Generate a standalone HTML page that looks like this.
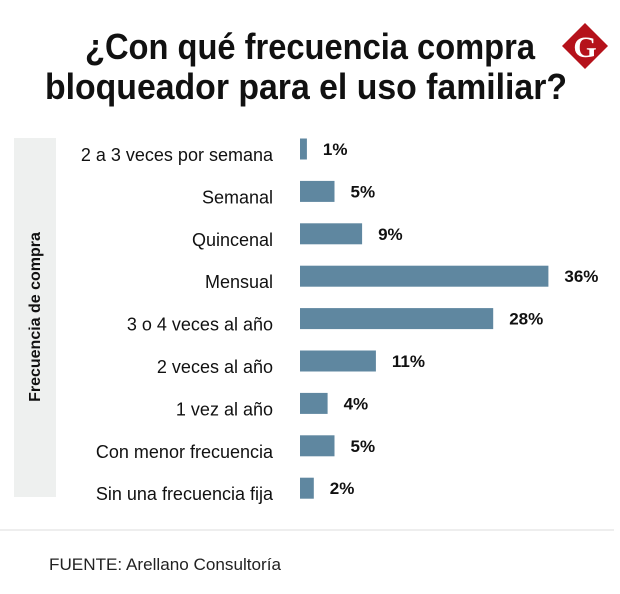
<!DOCTYPE html>
<html><head><meta charset="utf-8"><style>
body{margin:0;width:620px;height:594px;background:#fff;position:relative;overflow:hidden;font-family:"Liberation Sans",sans-serif;}
svg{position:absolute;left:0;top:0}
</style></head><body>
<svg width="620" height="594" id="c">
<g font-family="Liberation Sans,sans-serif" font-weight="bold" font-size="36" fill="#111">
<text x="85" y="59" textLength="450" lengthAdjust="spacingAndGlyphs">¿Con qué frecuencia compra</text>
<text x="45" y="99" textLength="522" lengthAdjust="spacingAndGlyphs">bloqueador para el uso familiar?</text>
</g>
<g>
<polygon points="585,23 608,46 585,69 562,46" fill="#b5121b"/>
<text x="585" y="57" text-anchor="middle" font-family="Liberation Serif,serif" font-weight="bold" font-size="30" fill="#fff">G</text>
</g>
<rect x="14" y="138" width="42" height="359" fill="#eef0ef"/>
<text transform="translate(40,317) rotate(-90)" text-anchor="middle" font-family="Liberation Sans,sans-serif" font-weight="bold" font-size="16" fill="#111">Frecuencia de compra</text>
<g id="bars"></g>
<line x1="0" y1="530" x2="614" y2="530" stroke="#ddd" stroke-width="1"/>
<text x="49" y="570" font-family="Liberation Sans,sans-serif" font-size="17" fill="#222" textLength="232" lengthAdjust="spacingAndGlyphs">FUENTE: Arellano Consultoría</text>
</svg>
<script>
const categories=["2 a 3 veces por semana","Semanal","Quincenal","Mensual","3 o 4 veces al año","2 veces al año","1 vez al año","Con menor frecuencia","Sin una frecuencia fija"];
const values=[1,5,9,36,28,11,4,5,2];
const valueLabels=["1%","5%","9%","36%","28%","11%","4%","5%","2%"];
const x0=300,pxPer=6.9,y0=149,step=42.4,bh=21;
const xs=v=>v*pxPer, ys=i=>y0+i*step;
const g=document.getElementById('bars');
const NS="http://www.w3.org/2000/svg";
categories.forEach((c,i)=>{
  const cy=ys(i);
  const t=document.createElementNS(NS,'text');
  
  
  t.setAttribute('x',273);t.setAttribute('y',cy+12);t.setAttribute('text-anchor','end');
  t.setAttribute('font-size','18');t.setAttribute('fill','#111');
  t.textContent=c;g.appendChild(t);
  const r=document.createElementNS(NS,'rect');
  
  
  r.setAttribute('x',x0);r.setAttribute('y',cy-bh/2);r.setAttribute('width',Math.max(xs(values[i]),6));r.setAttribute('height',bh);
  r.setAttribute('fill','#5f87a0');g.appendChild(r);
  const v=document.createElementNS(NS,'text');
  
  
  v.setAttribute('x',x0+Math.max(xs(values[i]),6)+16);v.setAttribute('y',cy+6);
  v.setAttribute('font-family','Liberation Sans,sans-serif');v.setAttribute('font-weight','bold');v.setAttribute('font-size','17');v.setAttribute('fill','#111');
  v.textContent=valueLabels[i];g.appendChild(v);
});
</script>
</body></html>
